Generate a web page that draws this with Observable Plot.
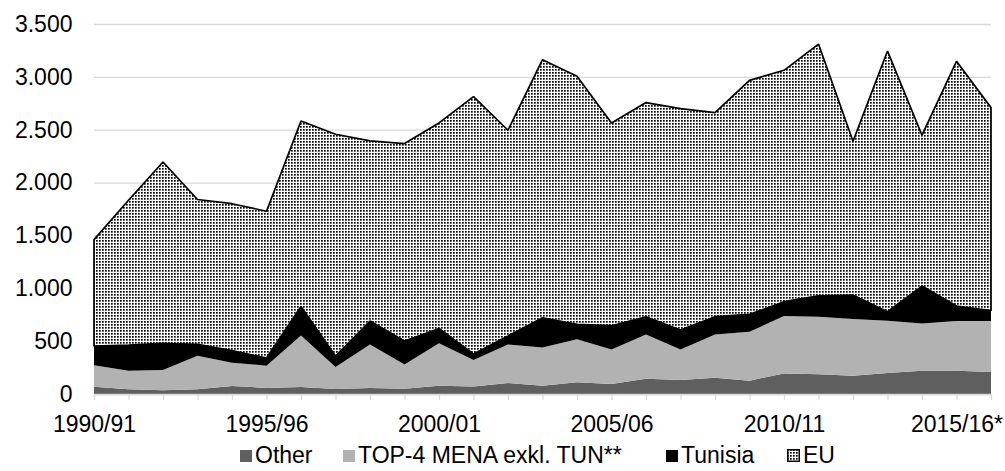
<!DOCTYPE html>
<html>
<head>
<meta charset="utf-8">
<script src="https://cdn.jsdelivr.net/npm/d3@7"></script>
<script src="https://cdn.jsdelivr.net/npm/@observablehq/plot@0.6"></script>
<style>
  html, body { margin: 0; padding: 0; background: #fff; }
  body { width: 1005px; height: 471px; overflow: hidden; font-family: "Liberation Sans", Arial, sans-serif; }
  #legend { position: relative; width: 1005px; height: 31px; font-size: 23px; color: #000; }
  .item { position: absolute; top: 0; height: 31px; display: flex; align-items: center; gap: 3px; white-space: nowrap; }
  .sw { width: 12px; height: 12px; display: inline-block; }
</style>
</head>
<body>
<div id="chart"></div>
<div id="legend"></div>
<script>
const seasons = ["1990/91","1991/92","1992/93","1993/94","1994/95","1995/96","1996/97","1997/98","1998/99","1999/00",
  "2000/01","2001/02","2002/03","2003/04","2004/05","2005/06","2006/07","2007/08","2008/09","2009/10",
  "2010/11","2011/12","2012/13","2013/14","2014/15","2015/16","2016/17"];
const other   = [69,44,35,44,76,57,66,47,57,50,79,72,104,79,110,95,145,132,154,126,195,186,173,198,220,220,208];
const top4    = [202,176,192,318,220,211,488,208,412,230,400,249,365,362,407,327,419,290,410,463,542,545,536,495,448,470,482];
const tunisia = [183,243,252,107,114,72,274,104,221,221,141,57,79,280,141,224,167,183,167,164,136,198,227,85,353,142,98];
const eu      = [1006,1370,1716,1371,1390,1389,1755,2098,1704,1868,1944,2435,1947,2441,2347,1918,2026,2095,1931,2214,2189,2381,1455,2466,1427,2315,1921];
const seriesNames = ["Other", "TOP-4 MENA exkl. TUN**", "Tunisia", "EU"];
const seriesFills = ["#5f5f5f", "#b2b2b2", "#000000", "url(#dots)"];
const xTickSeasons = ["1990/91","1995/96","2000/01","2005/06","2010/11","2015/16"];
const xTickLabels  = ["1990/91","1995/96","2000/01","2005/06","2010/11","2015/16*"];
const yTicks = [0,500,1000,1500,2000,2500,3000,3500];

const seriesValues = [other, top4, tunisia, eu];
const long = [];
seasons.forEach((s, i) => {
  seriesNames.forEach((n, k) => long.push({season: s, series: n, value: seriesValues[k][i]}));
});
const fillOf = Object.fromEntries(seriesNames.map((n, k) => [n, seriesFills[k]]));
const de = d3.formatLocale({decimal: ",", thousands: ".", grouping: [3], currency: ["", "€"]});
const fmt = de.format(",");

const grid = "#d9d9d9";
const chart = Plot.plot({
  width: 1005,
  height: 440,
  marginTop: 24,
  marginBottom: 46,
  marginLeft: 94,
  marginRight: 14,
  style: {fontFamily: '"Liberation Sans", Arial, sans-serif', fontSize: "23px", color: "#000", background: "#fff"},
  x: {type: "point", domain: seasons, padding: 0, round: false, label: null},
  y: {domain: [0, 3500], label: null},
  color: {type: "identity"},
  marks: [
    Plot.gridY(yTicks, {stroke: grid, strokeOpacity: 1, strokeWidth: 1.3}),
    Plot.areaY(long, Plot.stackY({
      x: "season", y: "value", z: "series", order: seriesNames,
      fill: d => fillOf[d.series],
      stroke: d => d.series === "EU" ? "#000" : "none",
      strokeWidth: 1.7, strokeLinejoin: "miter"
    })),
    Plot.ruleY([0], {stroke: grid, strokeWidth: 1.3}),
    Plot.axisX({ticks: seasons, tickSize: 6, tickFormat: () => "", stroke: grid, strokeOpacity: 1, strokeWidth: 1.3, label: null}),
    Plot.axisX({ticks: xTickSeasons, tickSize: 0, tickPadding: 21, tickFormat: d => xTickLabels[xTickSeasons.indexOf(d)], label: null, fill: "#000"}),
    Plot.axisY({ticks: yTicks, tickSize: 0, tickPadding: 22, tickFormat: fmt, label: null, fill: "#000"})
  ]
});

const NS = "http://www.w3.org/2000/svg";
function addPattern(svg, id) {
  const defs = document.createElementNS(NS, "defs");
  const pat = document.createElementNS(NS, "pattern");
  pat.setAttribute("id", id);
  pat.setAttribute("width", "3");
  pat.setAttribute("height", "3");
  pat.setAttribute("patternUnits", "userSpaceOnUse");
  const bg = document.createElementNS(NS, "rect");
  bg.setAttribute("width", "3"); bg.setAttribute("height", "3"); bg.setAttribute("fill", "#fff");
  const dot = document.createElementNS(NS, "rect");
  dot.setAttribute("width", "1.7"); dot.setAttribute("height", "1.7"); dot.setAttribute("fill", "#000");
  pat.appendChild(bg); pat.appendChild(dot); defs.appendChild(pat);
  svg.insertBefore(defs, svg.firstChild);
}
addPattern(chart, "dots");
document.getElementById("chart").appendChild(chart);

const legendLeft = [240, 343, 666, 787];
const legend = document.getElementById("legend");
seriesNames.forEach((n, k) => {
  const item = document.createElement("span");
  item.className = "item";
  item.style.left = legendLeft[k] + "px";
  let sw;
  if (n === "EU") {
    sw = document.createElementNS(NS, "svg");
    sw.setAttribute("width", "13"); sw.setAttribute("height", "13");
    addPattern(sw, "dots2");
    const r = document.createElementNS(NS, "rect");
    r.setAttribute("x", "0.75"); r.setAttribute("y", "0.75"); r.setAttribute("width", "11.5"); r.setAttribute("height", "11.5");
    r.setAttribute("fill", "url(#dots2)"); r.setAttribute("stroke", "#000"); r.setAttribute("stroke-width", "1.5");
    sw.appendChild(r);
  } else {
    sw = document.createElement("span");
    sw.className = "sw";
    sw.style.background = seriesFills[k];
  }
  const t = document.createElement("span");
  t.textContent = n;
  item.appendChild(sw); item.appendChild(t);
  legend.appendChild(item);
});
</script>
</body>
</html>
